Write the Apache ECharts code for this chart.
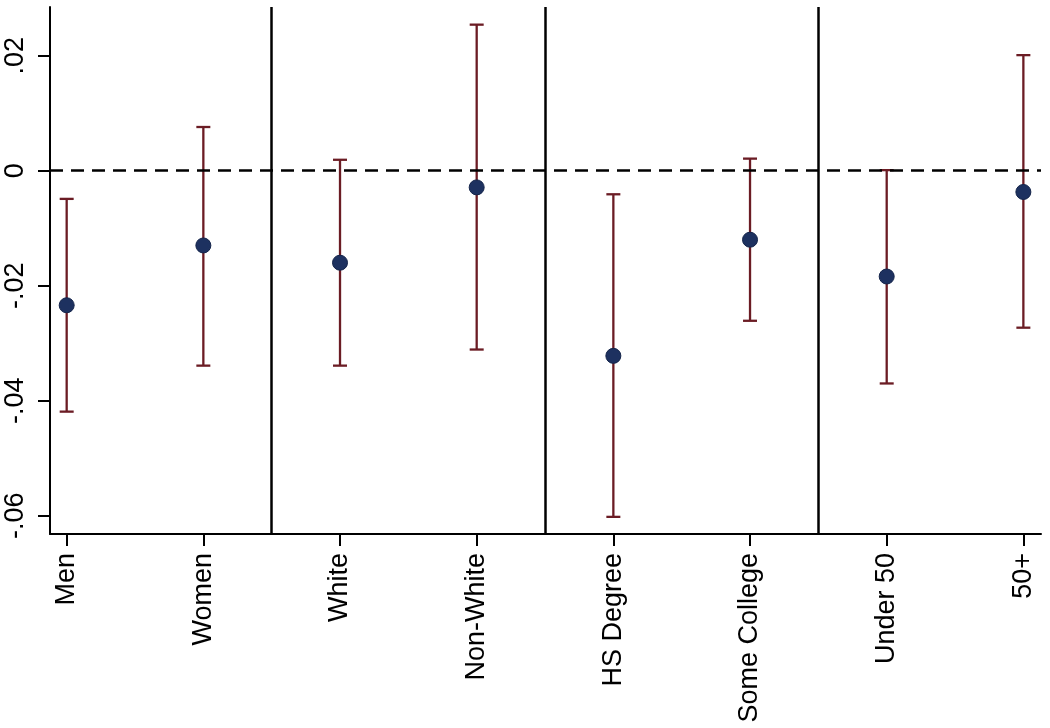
<!DOCTYPE html>
<html>
<head>
<meta charset="utf-8">
<script src="https://cdn.jsdelivr.net/npm/echarts@6/dist/echarts.min.js"></script>
<style>html,body{margin:0;padding:0;background:#fff}#c{width:1050px;height:728px}</style>
</head>
<body>
<div id="c"></div>
<script>
const categories = ['Men','Women','White','Non-White','HS Degree','Some College','Under 50','50+'];
const pointEst = [-0.0234, -0.0130, -0.0160, -0.0029, -0.0322, -0.0120, -0.0184, -0.0037];
const ciLow    = [-0.0419, -0.0339, -0.0339, -0.0311, -0.0602, -0.0261, -0.0370, -0.0273];
const ciHigh   = [-0.0049,  0.0076,  0.0019,  0.0254, -0.0041,  0.0021,  0.0001,  0.0201];
const yTicks = [-0.06, -0.04, -0.02, 0, 0.02];
const separators = [1.5, 3.5, 5.5];
const refLine = 0;

const xIdx = categories.map((c, i) => i);
const font = '"Liberation Sans", Arial, sans-serif';
const barColor = '#6b1c24';
const dotColor = '#1d3160';

const chart = echarts.init(document.getElementById('c'), null, {renderer: 'canvas'});
chart.setOption({
  animation: false,
  backgroundColor: '#fff',
  grid: {left: 50, right: 9, top: 7, bottom: 194, containLabel: false},
  xAxis: {
    type: 'value', min: -0.122, max: 7.129,
    axisLine: {show: true, onZero: false, lineStyle: {color: '#000', width: 2}},
    axisTick: {show: true, customValues: xIdx, length: 12, lineStyle: {color: '#000', width: 2}},
    axisLabel: {show: true, customValues: xIdx, rotate: 90, margin: 19,
      fontSize: 27, fontFamily: font, color: '#000',
      formatter: v => categories[Math.round(v)]},
    splitLine: {show: false}
  },
  yAxis: {
    type: 'value', min: -0.06318, max: 0.02847,
    axisLine: {show: true, onZero: false, lineStyle: {color: '#000', width: 2}},
    axisTick: {show: true, customValues: yTicks, length: 12, lineStyle: {color: '#000', width: 2}},
    axisLabel: {show: true, customValues: yTicks, rotate: 90, margin: 21,
      fontSize: 27, fontFamily: font, color: '#000',
      formatter: v => Math.abs(v) < 1e-9 ? '0' : v.toFixed(2).replace('0.', '.')},
    splitLine: {show: false}
  },
  series: [
    {
      type: 'custom',
      name: 'ci',
      data: xIdx.map(i => [i, ciLow[i], ciHigh[i]]),
      encode: {x: 0, y: [1, 2]},
      z: 3,
      renderItem: function (params, api) {
        const x = api.value(0);
        const lo = api.coord([x, api.value(1)]);
        const hi = api.coord([x, api.value(2)]);
        const hw = 7;
        const style = {stroke: barColor, lineWidth: 2.3};
        return {
          type: 'group',
          children: [
            {type: 'line', shape: {x1: lo[0], y1: lo[1], x2: hi[0], y2: hi[1]}, style},
            {type: 'line', shape: {x1: lo[0] - hw, y1: lo[1], x2: lo[0] + hw, y2: lo[1]}, style},
            {type: 'line', shape: {x1: hi[0] - hw, y1: hi[1], x2: hi[0] + hw, y2: hi[1]}, style}
          ]
        };
      },
      markLine: {
        silent: true, symbol: 'none', label: {show: false},
        data: separators.map(s => ({xAxis: s, lineStyle: {color: '#000', width: 2.5, type: 'solid'}}))
          .concat([{yAxis: refLine, lineStyle: {color: '#000', width: 2.7, type: [13, 8]}}])
      }
    },
    {
      type: 'scatter',
      name: 'est',
      data: xIdx.map(i => [i, pointEst[i]]),
      symbol: 'circle',
      symbolSize: 15,
      z: 4,
      itemStyle: {color: dotColor, borderColor: '#14244a', borderWidth: 1, opacity: 1}
    }
  ]
});
</script>
</body>
</html>
